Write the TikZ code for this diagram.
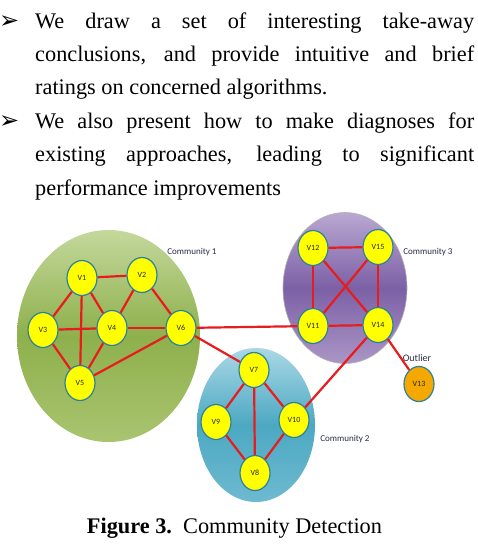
\documentclass[tikz,border=0pt]{standalone}
\usepackage{fontspec}
\setmainfont{Liberation Serif}
\newfontfamily\lblfont{Carlito}
\newfontfamily\symfont{DejaVu Sans}
\usetikzlibrary{shapes.geometric}
\definecolor{edgered}{RGB}{232,28,28}
\definecolor{vborder}{RGB}{45,130,155}
\definecolor{vfill}{RGB}{255,255,0}
\definecolor{ofill}{RGB}{245,168,0}
\definecolor{gtop}{RGB}{196,216,156}
\definecolor{gmid}{RGB}{142,176,76}
\definecolor{gbot}{RGB}{170,196,112}
\definecolor{ptop}{RGB}{186,168,210}
\definecolor{pmid}{RGB}{124,96,166}
\definecolor{pbot}{RGB}{170,150,198}
\definecolor{btop}{RGB}{170,216,230}
\definecolor{bmid}{RGB}{76,168,194}
\definecolor{bbot}{RGB}{110,186,208}
\definecolor{lbltext}{RGB}{40,45,70}
\tikzset{
  vert/.style={ellipse, draw=vborder, line width=1.2pt, fill=vfill, inner sep=0pt,
    minimum width=30pt, minimum height=35pt, font=\lblfont\fontsize{8}{8}\selectfont, text=black!85},
  outl/.style={vert, fill=ofill},
  link/.style={draw=edgered, line width=2.2pt},
  comm/.style={font=\lblfont\fontsize{9}{9}\selectfont, text=lbltext},
  bodyline/.style={anchor=base west, inner sep=0pt, font=\fontsize{22.3}{26}\selectfont},
  bullet/.style={anchor=base west, inner sep=0pt, font=\symfont\fontsize{24}{24}\selectfont},
  blob/.style={ellipse, inner sep=0pt}
}
\begin{document}
\begin{tikzpicture}[x=1pt,y=-1pt]
\clip (0,0) rectangle (477,557);
\fill[white] (0,0) rectangle (477,557);
% body text
\node[bullet] (b1) at (-1,28) {➢};
\node[bodyline] (l1) at (35,28) {\makebox[439pt][s]{We draw a set of interesting take-away}};
\node[bodyline] (l2) at (35,61.4) {\makebox[439pt][s]{conclusions, and provide intuitive and brief}};
\node[bodyline] (l3) at (35,94.8) {ratings on concerned algorithms.};
\node[bullet] (b2) at (-1,128.2) {➢};
\node[bodyline] (l4) at (35,128.2) {\makebox[439pt][s]{We also present how to make diagnoses for}};
\node[bodyline] (l5) at (35,161.6) {\makebox[439pt][s]{existing approaches, leading to significant}};
\node[bodyline] (l6) at (35,195) {performance improvements};
% communities
\node[blob, minimum width=183pt, minimum height=212pt, top color=gtop, bottom color=gbot, middle color=gmid] (c1) at (108.5,336) {};
\node[blob, minimum width=124pt, minimum height=151pt, top color=ptop, bottom color=pbot, middle color=pmid, draw=gray!60, line width=0.6pt] (c3) at (345,288) {};
\node[blob, minimum width=118pt, minimum height=154pt, top color=btop, bottom color=bbot, middle color=bmid] (c2) at (256,425) {};
\node[comm] (t1) at (192,252) {Community 1};
\node[comm] (t3) at (428,252) {Community 3};
\node[comm] (t2) at (345,439) {Community 2};
\node[comm, font=\lblfont\fontsize{10}{10}\selectfont] (to) at (417,358) {Outlier};
% vertices
\node[vert] (v1) at (82,278) {V1};
\node[vert] (v2) at (142,275) {V2};
\node[vert] (v3) at (43,330) {V3};
\node[vert] (v4) at (112,328) {V4};
\node[vert] (v5) at (80,383) {V5};
\node[vert] (v6) at (181,328) {V6};
\node[vert] (v7) at (254,370) {V7};
\node[vert] (v9) at (216,422) {V9};
\node[vert] (v10) at (294,420) {V10};
\node[vert] (v8) at (255,473) {V8};
\node[vert] (v12) at (313,248) {V12};
\node[vert] (v15) at (378,247) {V15};
\node[vert] (v11) at (313,326) {V11};
\node[vert] (v14) at (378,325) {V14};
\node[outl] (v13) at (419,384) {V13};
% edges
\draw[link] (v1) -- (v2);
\draw[link] (v1) -- (v3);
\draw[link] (v1) -- (v4);
\draw[link] (v1) -- (v5);
\draw[link] (v2) -- (v4);
\draw[link] (v2) -- (v6);
\draw[link] (v3) -- (v4);
\draw[link] (v3) -- (v5);
\draw[link] (v4) -- (v6);
\draw[link] (v4) -- (v5);
\draw[link] (v5) -- (v6);
\draw[link] (v6) -- (v11);
\draw[link] (v6) -- (v7);
\draw[link] (v7) -- (v9);
\draw[link] (v7) -- (v8);
\draw[link] (v7) -- (v10);
\draw[link] (v9) -- (v8);
\draw[link] (v10) -- (v8);
\draw[link] (v10) -- (v14);
\draw[link] (v12) -- (v15);
\draw[link] (v12) -- (v11);
\draw[link] (v12) -- (v14);
\draw[link] (v15) -- (v11);
\draw[link] (v15) -- (v14);
\draw[link] (v11) -- (v14);
\draw[link] (v14) -- (v13);
% caption
\node[anchor=base, inner sep=0pt, font=\fontsize{22.3}{26}\selectfont] (cap) at (234.5,533) {\textbf{Figure 3.}\ \ Community Detection};
\end{tikzpicture}
\end{document}
